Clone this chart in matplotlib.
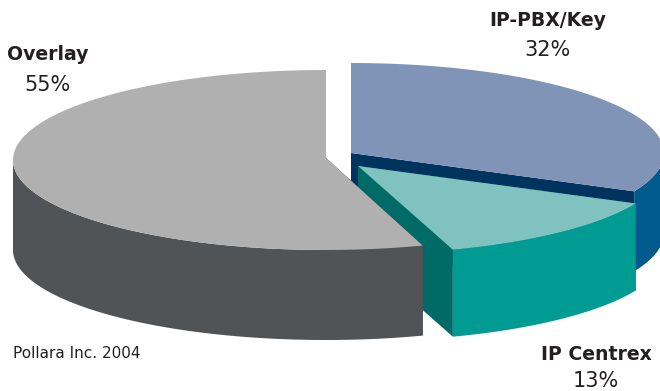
import numpy as np
import matplotlib
matplotlib.use("Agg")
import matplotlib.pyplot as plt

# data
categories = ["IP-PBX/Key", "IP Centrex", "Overlay"]
shares = [32, 13, 55]
share_labels = ["32%", "13%", "55%"]
source_note = "Pollara Inc. 2004"

# style / layout (pixel space of the 660x391 figure)
top_colors = ["#8094b8", "#7fc2bf", "#b0b0b0"]
wall_colors = ["#005a8c", "#009c94", "#515457"]
cut_colors = ["#00335e", "#006b66", "#3c3f41"]
centers = [(351, 153), (358, 166), (326, 160)]
radii = [(313, 90), (307, 88), (313, 90)]
depths = [80, 87, 90]
apex_offsets = [(0, 0), (0, 0), (0, -2)]
label_pos = [(548, 21, 548, 50), (596, 354, 596, 381), (48, 55, 48, 85)]
TEXT = "#231f20"

fig = plt.figure(figsize=(6.6, 3.91), dpi=100)
ax = fig.add_axes([0, 0, 1, 1])
ax.set_xlim(0, 660)
ax.set_ylim(391, 0)
ax.axis("off")


def arc(c, r, a0, a1, dy=0.0):
    t = np.radians(np.linspace(a0, a1, 200))
    return c[0] + r[0] * np.cos(t), c[1] - r[1] * np.sin(t) + dy


edges = 90 - np.cumsum([0] + shares) * 3.6

for i in range(len(shares)):
    c, r, d = centers[i], radii[i], depths[i]
    a0, a1 = edges[i], edges[i + 1]
    apex = (c[0] + apex_offsets[i][0], c[1] + apex_offsets[i][1])

    # cut faces
    for a in (a0, a1):
        ex, ey = arc(c, r, a, a)
        ax.fill([apex[0], ex[0], ex[0], apex[0]],
                [apex[1], ey[0], ey[0] + d, apex[1] + d],
                color=cut_colors[i], lw=0, zorder=i * 3 + 1)

    # outer wall: only the part on the front half of the rim
    if i == 2:
        wa0, wa1 = a0, -180
    else:
        wa0, wa1 = min(a0, 0), a1
    wx0, wy0 = arc(c, r, wa0, wa1)
    wx1, wy1 = arc(c, r, wa1, wa0, dy=d)
    ax.fill(np.r_[wx0, wx1], np.r_[wy0, wy1],
            color=wall_colors[i], lw=0, zorder=i * 3 + 2)

    # top face
    tx, ty = arc(c, r, a0, a1)
    ax.fill(np.r_[apex[0], tx], np.r_[apex[1], ty],
            color=top_colors[i], lw=0, zorder=i * 3 + 3)

for cat, lab, p in zip(categories, share_labels, label_pos):
    ax.text(p[0], p[1], cat, ha="center", va="center", family="DejaVu Sans",
            weight="bold", fontsize=13.6, color=TEXT, zorder=20)
    ax.text(p[2], p[3], lab, ha="center", va="center", family="DejaVu Sans",
            fontsize=15, color=TEXT, zorder=20)

ax.text(13, 354, source_note, ha="left", va="center", family="DejaVu Sans",
        fontsize=11, color=TEXT, zorder=20)

fig.savefig("out.png", dpi=100)
